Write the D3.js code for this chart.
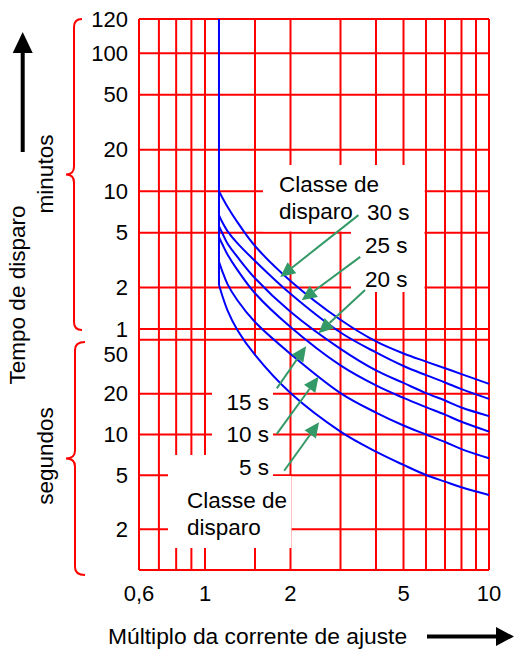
<!DOCTYPE html>
<html lang="pt">
<head>
<meta charset="UTF-8" />
<title>Curva de disparo</title>
<script src="https://d3js.org/d3.v7.min.js"></script>
<style>
  body { margin: 0; background: #fff; }
  svg { display: block; font-family: 'Liberation Sans', Arial, sans-serif; }
</style>
</head>
<body>
<svg id="chart" width="514" height="650"></svg>
<script>
// grid and tick values
const xGrid = [0.6, 0.7, 0.8, 0.9, 1, 1.5, 2, 3, 4, 5, 6, 7, 8, 9, 10];
const xTicks = [0.6, 1, 2, 5, 10];
const xTickLabels = ['0,6', '1', '2', '5', '10'];
const minGrid = [120, 100, 50, 20, 10, 5, 2, 1]; // minutes
const secGrid = [50, 20, 10, 5, 2, 1];           // seconds
const minTicks = [120, 100, 50, 20, 10, 5, 2, 1];
const secTicks = [50, 20, 10, 5, 2];

// trip curves: multiple of setting current -> trip time in seconds
const curveX = [1.12, 1.15, 1.2, 1.3, 1.5, 2, 3, 4, 5, 6, 7, 8, 10];
const class30 = [600, 540, 463, 358, 240, 134, 70, 48.6, 39.6, 34.5, 30.8, 27.9, 23.6];
const class25 = [402, 358, 308, 252, 187, 108, 56.5, 40.3, 32.0, 27.4, 24.2, 21.6, 18.3];
const class20 = [335, 298, 250, 200, 140, 80, 42.8, 29.7, 24.0, 20.2, 17.8, 15.8, 13.65];
const class15 = [278, 248, 208, 161, 109, 62, 32.3, 23, 18.6, 15.9, 14.0, 12.4, 10.5];
const class10 = [184, 158, 127, 97, 67.4, 39.3, 20.2, 14.5, 11.65, 10.0, 8.8, 7.8, 6.67];
const class5 = [125, 105, 82, 59, 38.6, 20.2, 10.5, 7.47, 5.96, 5.02, 4.49, 4.08, 3.58];
const verticalX = 1.12;
const topTime = 7200;

// label arrows [from, to] in (multiple, seconds)
const arrows = [
  [[3.47, 402], [1.84, 143]],
  [[3.52, 200], [2.19, 97]],
  [[3.66, 115], [2.51, 55.8]],
  [[1.79, 21.9], [2.27, 44.8]],
  [[1.79, 10.1], [2.51, 26.7]],
  [[1.90, 5.4], [2.52, 12.3]]
];

const svg = d3.select('#chart');
const red = '#ff0000', blue = '#0000ff', green = '#339966';

const x = d3.scaleLog().domain([0.6, 1, 10]).range([139, 205, 489]);
const y = d3.scaleLog().domain([1, 60, 6000, 7200]).range([570, 329, 53.3, 19]);

// grid
const grid = svg.append('g').attr('stroke', red).attr('stroke-width', 2);
grid.selectAll('line.v').data(xGrid).join('line')
  .attr('x1', d => x(d)).attr('x2', d => x(d))
  .attr('y1', y(topTime)).attr('y2', y(1));
const hLines = minGrid.map(m => m * 60).concat(secGrid);
grid.selectAll('line.h').data(hLines).join('line')
  .attr('x1', x(0.6)).attr('x2', x(10))
  .attr('y1', d => y(d)).attr('y2', d => y(d));

// white label backgrounds
const boxes = [
  [263, 165, 161.5, 66.5],
  [351, 165, 73.5, 127],
  [212, 355, 61, 121],
  [168, 455, 105, 93],
  [170, 476, 121.5, 72]
];
svg.append('g').selectAll('rect').data(boxes).join('rect')
  .attr('x', d => d[0]).attr('y', d => d[1])
  .attr('width', d => d[2]).attr('height', d => d[3])
  .attr('fill', '#fff');

// curves
const line = d3.line().x(d => x(d[0])).y(d => y(d[1])).curve(d3.curveCatmullRom.alpha(0.5));
const series = [class30, class25, class20, class15, class10, class5];
svg.append('line')
  .attr('x1', x(verticalX)).attr('x2', x(verticalX))
  .attr('y1', y(topTime)).attr('y2', y(class5[0]))
  .attr('stroke', blue).attr('stroke-width', 2);
svg.append('g').selectAll('path').data(series).join('path')
  .attr('d', s => line(s.map((t, i) => [curveX[i], t])))
  .attr('fill', 'none').attr('stroke', blue).attr('stroke-width', 2);

// green arrows
const ag = svg.append('g');
arrows.forEach(([f, t]) => {
  const x1 = x(f[0]), y1 = y(f[1]), x2 = x(t[0]), y2 = y(t[1]);
  const a = Math.atan2(y2 - y1, x2 - x1), L = 15, W = 7;
  const bx = x2 - L * Math.cos(a), by = y2 - L * Math.sin(a);
  ag.append('line').attr('x1', x1).attr('y1', y1).attr('x2', bx).attr('y2', by)
    .attr('stroke', green).attr('stroke-width', 2);
  ag.append('polygon')
    .attr('points', [[x2, y2],
      [bx + W * Math.sin(a), by - W * Math.cos(a)],
      [bx - W * Math.sin(a), by + W * Math.cos(a)]].join(' '))
    .attr('fill', green);
});

// texts
const fs = 22.5;
const txt = (s, px, py, anchor, size) => svg.append('text').attr('x', px).attr('y', py)
  .attr('font-size', size || fs).attr('text-anchor', anchor || 'start').attr('fill', '#000').text(s);

txt('Classe de', 279, 192);
txt('disparo', 279, 219);
txt('30 s', 367, 220);
txt('25 s', 365, 253);
txt('20 s', 365, 287);
txt('15 s', 269, 410, 'end');
txt('10 s', 269, 442, 'end');
txt('5 s', 269, 475, 'end');
txt('Classe de', 187, 508);
txt('disparo', 187, 535);

// y tick labels
minTicks.forEach(m => txt(String(m), 128, y(m * 60) + 7.5, 'end', 22));
secTicks.forEach(s => txt(String(s), 128, y(s) + 7.5 + (s === 50 ? 15 : 0), 'end', 22));

// x tick labels
xTicks.forEach((v, i) => txt(xTickLabels[i], x(v), 601, 'middle', 22));

txt('Múltiplo da corrente de ajuste', 108, 644, 'start', 22.8);

svg.append('text').attr('transform', 'translate(24.5,295) rotate(-90)')
  .attr('font-size', fs).attr('text-anchor', 'middle').text('Tempo de disparo');
svg.append('text').attr('transform', 'translate(53,174) rotate(-90)')
  .attr('font-size', fs).attr('text-anchor', 'middle').text('minutos');
svg.append('text').attr('transform', 'translate(53,456) rotate(-90)')
  .attr('font-size', fs).attr('text-anchor', 'middle').text('segundos');

// braces
function brace(y1, y2, xEnd, xBar, xTip) {
  const ym = (y1 + y2) / 2, r = 8;
  return `M${xEnd},${y1} Q${xBar},${y1} ${xBar},${y1 + r} L${xBar},${ym - r} ` +
    `Q${xBar},${ym} ${xTip},${ym} Q${xBar},${ym} ${xBar},${ym + r} ` +
    `L${xBar},${y2 - r} Q${xBar},${y2} ${xEnd},${y2}`;
}
svg.append('path').attr('d', brace(19, 330, 82, 74, 66))
  .attr('fill', 'none').attr('stroke', red).attr('stroke-width', 2);
svg.append('path').attr('d', brace(342, 575, 85, 75, 66))
  .attr('fill', 'none').attr('stroke', red).attr('stroke-width', 2);

// black direction arrows
svg.append('line').attr('x1', 22.7).attr('x2', 22.7).attr('y1', 152).attr('y2', 50)
  .attr('stroke', '#000').attr('stroke-width', 4);
svg.append('polygon').attr('points', '22.7,32 12.7,53 32.7,53').attr('fill', '#000');
svg.append('line').attr('x1', 427).attr('x2', 498).attr('y1', 636.5).attr('y2', 636.5)
  .attr('stroke', '#000').attr('stroke-width', 4);
svg.append('polygon').attr('points', '514,636.5 496,627 496,646').attr('fill', '#000');
</script>
</body>
</html>
